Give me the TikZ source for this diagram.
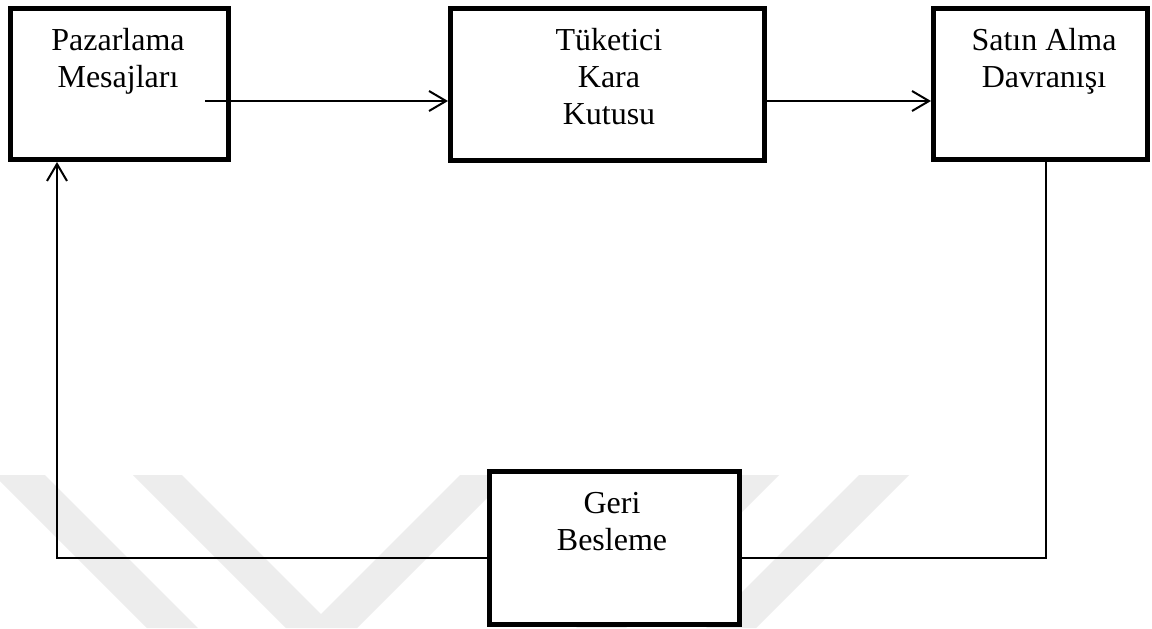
\documentclass[tikz,border=0pt]{standalone}
\usepackage{fontspec}
\setmainfont{Liberation Serif}
\usetikzlibrary{arrows.meta}
\definecolor{wm}{RGB}{237,237,237}
\begin{document}
\begin{tikzpicture}[x=0.5pt,y=-0.5pt,
  box/.style={draw, line width=2.5pt, fill=white, rectangle, inner sep=0pt},
  txt/.style={anchor=base, inner sep=0pt, font=\fontsize{16pt}{18.5pt}\selectfont},
  conn/.style={line width=1pt},
  arr/.style={-{Straight Barb[length=8.5pt,width=10pt]}},
  wmark/.style={fill=wm, draw=none}]
\useasboundingbox (0,0) rectangle (1152,628);
\fill[white] (0,0) rectangle (1152,628);
% watermark
\begin{scope}
\clip (0,0) rectangle (1152,628);
\path[wmark] (-6,475) -- (45,475) -- (198,628) -- (147,628) -- cycle;
\path[wmark] (133,475) -- (182,475) -- (321,614) -- (460,475) -- (510,475) -- (357,628) -- (286,628) -- cycle;
\path[wmark] (729,475) -- (779,475) -- (626,628) -- (576,628) -- cycle;
\path[wmark] (859,475) -- (909,475) -- (756,628) -- (706,628) -- cycle;
\end{scope}
% boxes
\node[box, minimum width=109pt, minimum height=75.5pt] (b1) at (119.5,84) {};
\node[box, minimum width=157pt, minimum height=76pt] (b2) at (607.5,84.5) {};
\node[box, minimum width=107pt, minimum height=75.5pt] (b3) at (1040.5,84) {};
\node[box, minimum width=125pt, minimum height=76.5pt] (b4) at (614.5,548) {};
% texts
\node[txt] (t1) at (118,50) {\begin{tabular}[t]{@{}c@{}}Pazarlama\\Mesajları\end{tabular}};
\node[txt] (t2) at (609,50) {\begin{tabular}[t]{@{}c@{}}Tüketici\\Kara\\Kutusu\end{tabular}};
\node[txt] (t3) at (1044,50) {\begin{tabular}[t]{@{}c@{}}Satın Alma\\Davranışı\end{tabular}};
\node[txt] (t4) at (612,513) {\begin{tabular}[t]{@{}c@{}}Geri\\Besleme\end{tabular}};
% connectors
\coordinate (a1s) at (205,101);
\coordinate (fr) at (1046,558);
\coordinate (fl) at (57,558);
\draw[conn, arr] (a1s) -- (a1s -| b2.west);
\draw[conn, arr] (b2.east |- a1s) -- (b3.west |- a1s);
\draw[conn] (b3.south -| fr) -- (fr) -- (b4.east |- fr);
\draw[conn, arr] (b4.west |- fl) -- (fl) -- (b1.south -| fl);
\end{tikzpicture}
\end{document}
